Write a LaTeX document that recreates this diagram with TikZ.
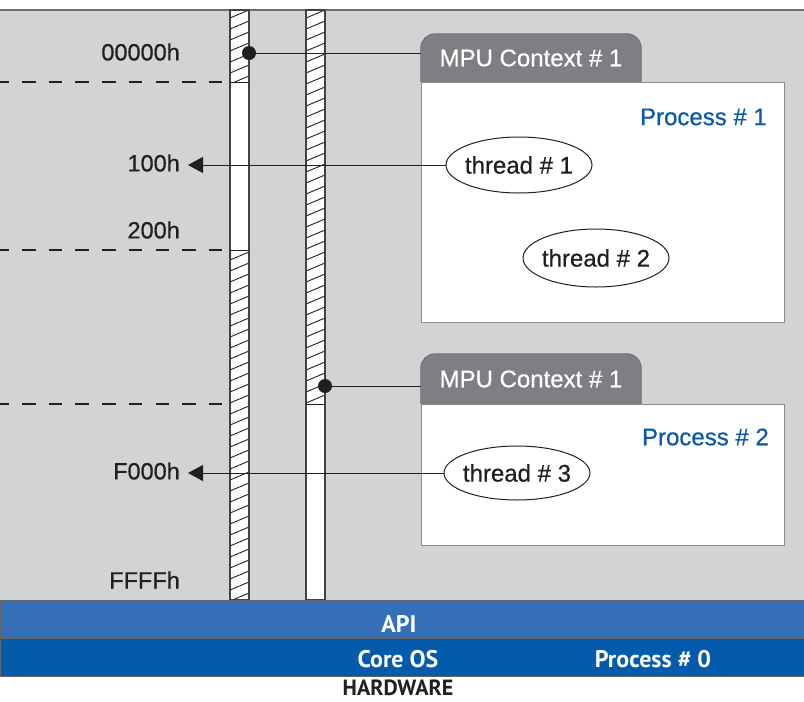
\documentclass[tikz,border=0pt]{standalone}
\usepackage{fontspec}
\setmainfont{Liberation Sans}
\newfontfamily\medfont[UprightFeatures={FakeBold=0.6}]{Liberation Sans}
\newfontfamily\bandfont{PT Sans}
\usetikzlibrary{shapes.geometric, arrows.meta, positioning, backgrounds}

\definecolor{panelgray}{HTML}{D1D3D4}
\definecolor{tabgray}{HTML}{7E7F83}
\definecolor{edgegray}{HTML}{6D6E71}
\definecolor{inkdark}{HTML}{231F20}
\definecolor{procblue}{HTML}{0A5AAA}
\definecolor{apiblue}{HTML}{356FB8}
\definecolor{coreblue}{HTML}{045BAB}

\begin{document}
\begin{tikzpicture}[
        x=1pt, y=-1pt,
        % Etiquetas de direcciones
        addr/.style={
                anchor=east,
                inner sep=0pt,
                font=\medfont\fontsize{23.5}{26}\selectfont,
                text=inkdark
            },
        % Pestaña MPU
        tabbox/.style={
                rectangle,
                minimum width=220pt,
                minimum height=48pt,
                inner sep=0pt,
                font=\medfont\fontsize{24}{26}\selectfont,
                text=white
            },
        tabfill/.style={
                fill=tabgray,
                draw=edgegray,
                line width=0.8pt,
                rounded corners=14pt
            },
        % Caja de proceso
        procbox/.style={
                rectangle,
                minimum width=363pt,
                fill=white,
                draw=edgegray!80,
                line width=0.8pt
            },
        proclabel/.style={
                anchor=east,
                inner sep=0pt,
                font=\medfont\fontsize{24}{26}\selectfont,
                text=procblue
            },
        % Hilos
        threadnode/.style={
                ellipse,
                minimum width=146pt,
                minimum height=56pt,
                inner xsep=-25pt,
                inner ysep=-6pt,
                fill=white,
                draw=inkdark,
                line width=1pt,
                font=\medfont\fontsize{24}{26}\selectfont,
                text=inkdark
            },
        % Columnas de memoria
        column/.style={
                draw=inkdark!85,
                line width=1.6pt
            },
        hatch/.style={
                draw=inkdark,
                line width=0.9pt
            },
        divider/.style={
                draw=inkdark,
                line width=2.3pt,
                dash pattern=on 13.5pt off 13.2pt,
                dash phase=4.7pt
            },
        % Conectores
        link/.style={
                draw=inkdark,
                line width=0.9pt
            },
        pointer/.style={
                link,
                -{Triangle[length=15pt, width=16pt]}
            },
        % Bandas inferiores
        band/.style={
                rectangle,
                minimum width=804pt,
                minimum height=38pt,
                draw=inkdark!70,
                line width=1pt,
                inner sep=0pt
            },
        bandtext/.style={
                font=\bandfont\bfseries\fontsize{24}{26}\selectfont,
                text=white,
                inner sep=0pt
            }
    ]

    \useasboundingbox (0,0) rectangle (804,702);

    % Fondo
    \begin{scope}[on background layer]
        \fill[panelgray] (0,10) rectangle (804,600);
    \end{scope}
    \draw[edgegray, line width=2pt] (0,10) -- (804,10);

    % Separadores
    \draw[divider] (0,82) -- (248,82);
    \draw[divider] (0,250) -- (248,250);
    \draw[divider] (0,404) -- (248,404);

    % Columnas
    \fill[white] (230,10) rectangle (249,600);
    \fill[white] (306,10) rectangle (325,600);
    \begin{scope}
        \clip (230,10) rectangle (249,82) (230,250) rectangle (249,600);
        \foreach \y in {10,21,...,610}
        \draw[hatch] (230,\y+8) -- (249,\y);
    \end{scope}
    \begin{scope}
        \clip (306,10) rectangle (325,404);
        \foreach \y in {10,21,...,420}
        \draw[hatch] (306,\y+8) -- (325,\y);
    \end{scope}
    \draw[column] (230,10) rectangle (249,600);
    \draw[column] (306,10) rectangle (325,600);
    \draw[link] (230,82) -- (249,82);
    \draw[link] (230,250) -- (249,250);
    \draw[link] (306,404) -- (325,404);

    % Direcciones
    \node[addr] (a0) at (180,52) {00000h};
    \node[addr] (a100) at (180,163) {100h};
    \node[addr] (a200) at (180,230) {200h};
    \node[addr] (aF000) at (180,471) {F000h};
    \node[addr] (aFFFF) at (180,580) {FFFFh};

    % Proceso 1
    \node[procbox, minimum height=240pt] (proc1) at (602.5,202) {};
    \node[tabbox] (mpu1) at (531,58) {MPU Context \# 1};
    \begin{scope}[on background layer]
        \path[tabfill] (mpu1.south west) -- (mpu1.north west) -- (mpu1.north east) -- (mpu1.south east);
    \end{scope}
    \node[proclabel] (p1) at (767,117) {Process \# 1};
    \node[threadnode] (t1) at (519,165) {thread \# 1};
    \node[threadnode, minimum height=58pt] (t2) at (596,258) {thread \# 2};

    % Proceso 2
    \node[procbox, minimum height=141pt] (proc2) at (602.5,474.5) {};
    \node[tabbox, minimum height=50pt] (mpu2) at (531,379) {MPU Context \# 1};
    \begin{scope}[on background layer]
        \path[tabfill] (mpu2.south west) -- (mpu2.north west) -- (mpu2.north east) -- (mpu2.south east);
    \end{scope}
    \node[proclabel] (p2) at (769,437) {Process \# 2};
    \node[threadnode, minimum height=54pt] (t3) at (517,473) {thread \# 3};

    % Conectores
    \coordinate (dot1) at (249,53);
    \coordinate (dot2) at (325,386);
    \draw[link] (dot1) -- (dot1 -| mpu1.west);
    \draw[link] (dot2) -- (dot2 -| mpu2.west);
    \fill[inkdark] (dot1) circle (7pt);
    \fill[inkdark] (dot2) circle (7pt);
    \draw[pointer, shorten >=8pt] (t1.west) -- (t1.west -| a100.east);
    \draw[pointer, shorten >=8pt] (t3.west) -- (t3.west -| aF000.east);

    % Bandas
    \node[band, fill=apiblue, anchor=north west] (api) at (0,600) {};
    \node[band, fill=coreblue, anchor=north west] (core) at (0,638) {};
    \node[bandtext] (apitxt) at (399,624) {API};
    \node[bandtext] (coretxt) at (398,659) {Core OS};
    \node[bandtext] (p0) at (653,659) {Process \# 0};
    \node[bandtext, text=inkdark, font=\bandfont\bfseries\fontsize{22}{26}\selectfont] (hw) at (398,688) {HARDWARE};

\end{tikzpicture}
\end{document}
